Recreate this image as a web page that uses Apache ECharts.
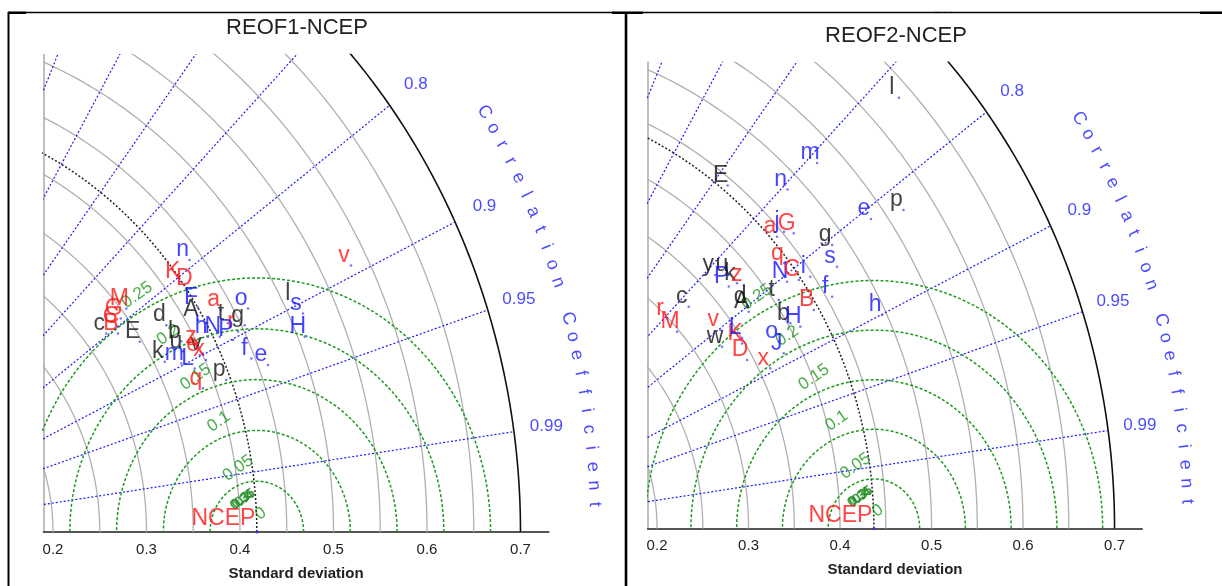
<!DOCTYPE html>
<html>
<head>
<meta charset="utf-8">
<script src="https://cdn.jsdelivr.net/npm/echarts@6/dist/echarts.min.js"></script>
<style>
  html, body { margin: 0; padding: 0; background: #fff; }
  #chart { width: 1222px; height: 586px; }
</style>
</head>
<body>
<div id="chart"></div>
<script>
// ---- Taylor diagram data: standard deviation + correlation of each model ----
const xTicks = [0.2, 0.3, 0.4, 0.5, 0.6, 0.7];
const stdGrid = [0.2, 0.25, 0.3, 0.35, 0.4, 0.45, 0.5, 0.55, 0.6, 0.65];
const stdMax = 0.7;
const corrRays = [0.1, 0.2, 0.3, 0.4, 0.5, 0.6, 0.7, 0.8, 0.9, 0.95, 0.99];
const corrLabels = [0.7, 0.8, 0.9, 0.95, 0.99];
const rmsLevels = [0.05, 0.1, 0.15, 0.2, 0.25];
const rmsCluster = ['0.3', '0.35', '0.4'];

// REOF1-NCEP
const refStd1 = 0.418;
const names1 = ['n','K','D','F','a','o','l','s','H','v','M','G','C','B','c','E','d','A','t','g','r','b','u','v','h','N','P','e','x','z','k','m','L','f','e','p','q'];
const colors1 = ['b','r','r','b','r','b','k','b','b','r','r','r','r','r','k','k','k','k','k','k','r','k','k','k','b','b','b','r','r','r','k','b','b','b','b','k','r'];
const std1 = [0.4375,0.4162,0.4225,0.4183,0.4378,0.4641,0.5107,0.5145,0.5070,0.5813,0.3548,0.3441,0.3370,0.3329,0.3229,0.3475,0.3803,0.4118,0.4383,0.4533,0.4442,0.3859,0.3828,0.4010,0.4132,0.4243,0.4356,0.3972,0.4011,0.3993,0.3608,0.3758,0.3867,0.4461,0.4602,0.4133,0.3872];
const corr1 = [0.791,0.806,0.8235,0.849,0.8666,0.8804,0.8978,0.9084,0.9254,0.8923,0.7847,0.7917,0.7997,0.8095,0.7959,0.8423,0.8446,0.8623,0.8834,0.8935,0.8958,0.8738,0.8856,0.8988,0.8853,0.8916,0.9011,0.8986,0.9065,0.8893,0.8855,0.8973,0.9092,0.9238,0.9341,0.9322,0.9308];

// REOF2-NCEP
const refStd2 = 0.437;
const names2 = ['l','m','E','n','e','p','a','j','G','g','q','s','N','C','i','y','u','P','k','z','c','d','A','t','f','B','h','b','H','r','M','v','w','K','L','D','o','J','x'];
const colors2 = ['k','b','k','b','b','k','r','b','r','k','r','b','b','r','b','k','k','b','k','r','k','k','k','k','b','r','b','k','b','r','r','r','k','r','b','r','b','b','r'];
const std2 = [0.6357,0.5257,0.4431,0.4840,0.5343,0.5686,0.4429,0.4520,0.4590,0.4846,0.4318,0.4765,0.4230,0.4344,0.4466,0.3672,0.3779,0.3701,0.3791,0.3836,0.3241,0.3729,0.3713,0.4049,0.4558,0.4317,0.4951,0.4029,0.4105,0.2990,0.2977,0.3354,0.3272,0.3473,0.3502,0.3434,0.3826,0.3818,0.3618];
const corr2 = [0.7304,0.7132,0.6256,0.7079,0.8117,0.8254,0.7476,0.7496,0.7612,0.8075,0.7853,0.8326,0.8087,0.8170,0.8229,0.7182,0.7367,0.7522,0.7581,0.7685,0.7239,0.8002,0.8085,0.8224,0.8585,0.8601,0.9006,0.8580,0.8687,0.7054,0.7454,0.8026,0.8283,0.8434,0.8364,0.8690,0.8704,0.8866,0.8949];

// ---- styling ----
const FONT = '"Liberation Sans", Arial, Helvetica, sans-serif';
const PALETTE = { r: '#ff1515', k: '#111111', b: '#1515ff' };
const BLUE = '#1a1aff';
const GREEN = '#1c9a1c';

const panels = [
  { title: 'REOF1-NCEP', titleX: 297, titleY: 28, ref: refStd1, names: names1, colors: colors1, std: std1, corr: corr1,
    grid: { left: 43.65, top: 54.5, width: 504.9, height: 478.5 } },
  { title: 'REOF2-NCEP', titleX: 896, titleY: 35.5, ref: refStd2, names: names2, colors: colors2, std: std2, corr: corr2,
    grid: { left: 647.9, top: 62.3, width: 494.1, height: 466.2 } }
];
const X_MIN = 0.19, X_MAX = 0.73, Y_MAX = 0.47;

const toXY = (s, r) => [s * r, s * Math.sqrt(Math.max(0, 1 - r * r))];
const rad = d => d * Math.PI / 180;

function arc(cx, radius, a0, a1, n) {
  const pts = [];
  for (let i = 0; i <= n; i++) {
    const a = rad(a0 + (a1 - a0) * i / n);
    pts.push([cx + radius * Math.cos(a), radius * Math.sin(a)]);
  }
  return pts;
}

function lineS(gi, data, color, width, type, z) {
  return {
    type: 'line', xAxisIndex: gi, yAxisIndex: gi, data, symbol: 'none', silent: true,
    animation: false, clip: true, z,
    lineStyle: { color, width, type }
  };
}

function textS(gi, items, z, clip) {
  return {
    type: 'scatter', xAxisIndex: gi, yAxisIndex: gi, symbolSize: 1, silent: true,
    animation: false, clip, z,
    itemStyle: { color: 'rgba(0,0,0,0)' },
    data: items.map(it => ({
      value: it.value,
      label: {
        show: true, position: 'inside', formatter: it.text, color: it.color,
        fontSize: it.size, rotate: it.rotate || 0, fontFamily: FONT,
        fontWeight: it.weight || 'normal', offset: it.offset || [0, 0]
      }
    }))
  };
}

const grids = [], xAxes = [], yAxes = [], series = [], graphics = [];

panels.forEach((p, gi) => {
  grids.push(p.grid);
  const sx = p.grid.width / (X_MAX - X_MIN);
  const sy = p.grid.height / Y_MAX;

  xAxes.push({
    gridIndex: gi, type: 'value', min: X_MIN, max: X_MAX,
    axisLine: { show: true, onZero: false, lineStyle: { color: '#555', width: 2 } },
    axisTick: { show: false }, splitLine: { show: false },
    axisLabel: { customValues: xTicks, color: '#222', fontSize: 15, margin: 10, fontFamily: FONT,
                 formatter: v => v.toFixed(1) },
    name: 'Standard deviation', nameLocation: 'middle', nameGap: 34,
    nameTextStyle: { color: '#222', fontSize: 15, fontWeight: 'bold', fontFamily: FONT }
  });
  yAxes.push({
    gridIndex: gi, type: 'value', min: 0, max: Y_MAX,
    axisLine: { show: true, onZero: false, lineStyle: { color: '#aaa', width: 1.5 } },
    axisTick: { show: false }, axisLabel: { show: false }, splitLine: { show: false }
  });

  // constant standard-deviation arcs
  stdGrid.forEach(s => series.push(lineS(gi, arc(0, s, 0, 90, 180), '#b0b0b0', 1.3, 'solid', 1)));
  series.push(lineS(gi, arc(0, stdMax, 0, 90, 180), '#111', 1.6, 'solid', 2));
  // reference standard deviation
  series.push(lineS(gi, arc(0, p.ref, 0, 90, 180), '#222', 1.5, [2, 2], 3));
  // correlation rays
  corrRays.forEach(r => series.push(lineS(gi, [[0, 0], toXY(stdMax, r)], BLUE, 1.2, [2, 2], 3)));
  // centred RMS difference arcs
  rmsLevels.forEach(v => series.push(lineS(gi, arc(p.ref, v, 0, 180, 240), GREEN, 1.5, [3, 2], 3)));

  // RMS labels
  const rmsItems = rmsLevels.map(v => {
    const a = rad(105 + 55 * v), d = v + 0.016;
    return { value: [p.ref + d * Math.cos(a), d * Math.sin(a)], text: String(v), color: GREEN, size: 17, rotate: 35 };
  });
  rmsItems.push({ value: [p.ref + 0.004, 0.018], text: '0', color: GREEN, size: 17, rotate: 35 });
  rmsCluster.forEach((t, i) => rmsItems.push({
    value: [p.ref - 0.017 + i * 0.002, 0.031 + i * 0.001], text: t, color: '#1b8a1b', size: 14, rotate: 35, weight: 'bold'
  }));
  series.push(textS(gi, rmsItems, 4, true));

  // correlation tick labels
  series.push(textS(gi, corrLabels.map(r => ({
    value: toXY(0.735, r), text: String(r), color: BLUE, size: 17
  })), 4, false));

  // curved axis title
  const word = 'Correlation Coefficient';
  const letters = [];
  for (let i = 0; i < word.length; i++) {
    if (word[i] === ' ') continue;
    const th = 32 - i * 30 / (word.length - 1);
    const thPx = Math.atan2(Math.sin(rad(th)) * sy, Math.cos(rad(th)) * sx) * 180 / Math.PI;
    letters.push({ value: toXY(0.78, Math.cos(rad(th))), text: word[i], color: BLUE, size: 18, rotate: thPx - 90 });
  }
  series.push(textS(gi, letters, 4, false));

  // models
  series.push({
    type: 'scatter', xAxisIndex: gi, yAxisIndex: gi, symbol: 'circle', symbolSize: 2.5,
    animation: false, silent: true, clip: false, z: 6,
    itemStyle: { color: '#5050ff' },
    data: p.names.map((n, i) => ({
      value: toXY(p.std[i], p.corr[i]),
      label: { show: true, position: 'inside', offset: [-7, -10], formatter: n,
               color: PALETTE[p.colors[i]], fontSize: 23, fontFamily: FONT }
    }))
  });

  // reference (observation)
  series.push({
    type: 'scatter', xAxisIndex: gi, yAxisIndex: gi, symbol: 'circle', symbolSize: 3,
    animation: false, silent: true, clip: false, z: 6,
    itemStyle: { color: '#3030ff' },
    data: [{ value: [p.ref, 0], label: { show: true, position: 'left', distance: 0, offset: [0, -13],
             formatter: 'NCEP', color: PALETTE.r, fontSize: 23, fontFamily: FONT } }]
  });

  graphics.push({
    type: 'text', z: 120,
    style: { text: p.title, x: p.titleX, y: p.titleY, align: 'center', verticalAlign: 'middle',
             textAlign: 'center', textVerticalAlign: 'middle',
             font: '22px ' + FONT, fill: '#222' }
  });
});

// page frame
graphics.push(
  { type: 'rect', z: 100, shape: { x: 0, y: 0, width: 1222, height: 11.8 }, style: { fill: '#fff' } },
  { type: 'line', z: 110, shape: { x1: 8, y1: 12.5, x2: 1222, y2: 12.5 }, style: { stroke: '#000', lineWidth: 1.3 } },
  { type: 'line', z: 110, shape: { x1: 8, y1: 12.8, x2: 26, y2: 12.8 }, style: { stroke: '#000', lineWidth: 2.4 } },
  { type: 'line', z: 110, shape: { x1: 612, y1: 12.8, x2: 643, y2: 12.8 }, style: { stroke: '#000', lineWidth: 2.4 } },
  { type: 'line', z: 110, shape: { x1: 1200, y1: 12.8, x2: 1222, y2: 12.8 }, style: { stroke: '#000', lineWidth: 2.4 } },
  { type: 'line', z: 110, shape: { x1: 8.5, y1: 12, x2: 8.5, y2: 586 }, style: { stroke: '#000', lineWidth: 2 } },
  { type: 'line', z: 110, shape: { x1: 626, y1: 12, x2: 626, y2: 586 }, style: { stroke: '#000', lineWidth: 2.6 } }
);

const chart = echarts.init(document.getElementById('chart'), null, { renderer: 'canvas' });
chart.setOption({
  backgroundColor: '#fff',
  animation: false,
  grid: grids,
  xAxis: xAxes,
  yAxis: yAxes,
  series,
  graphic: graphics
});
</script>
</body>
</html>
